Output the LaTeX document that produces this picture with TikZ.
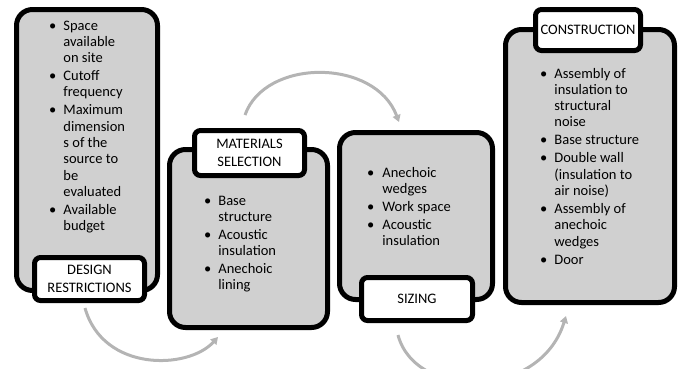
\documentclass[tikz,border=0pt]{standalone}
\usepackage{fontspec}
\setmainfont{Carlito}
\usetikzlibrary{arrows.meta}
\definecolor{boxgray}{RGB}{208,208,208}
\definecolor{arrowgray}{RGB}{180,180,180}
\newcommand\itemlist[2]{\begin{tabular}[t]{@{}l@{\hspace{#1}}l@{}}#2\end{tabular}}
\tikzset{
  bigbox/.style={draw=black, line width=5pt, fill=boxgray, rounded corners=16pt, inner sep=0pt},
  labelbox/.style={draw=black, line width=5pt, fill=white, rounded corners=6pt, inner sep=0pt,
    align=center, font=\fontsize{14.5}{17.5}\selectfont},
  listtext/.style={anchor=base west, inner sep=0pt, font=\fontsize{14.5}{16.3}\selectfont},
  flow/.style={draw=arrowgray, line width=3pt, -{Triangle[length=7pt,width=8pt]}}
}
\begin{document}
\begin{tikzpicture}[x=1pt,y=-1pt]
\useasboundingbox (0,0) rectangle (679,368);
% arrows
\coordinate (a1s) at (85,308);
\coordinate (a1e) at (218,337);
\coordinate (a2s) at (245,115);
\coordinate (a2e) at (399,122);
\coordinate (a3s) at (398,335);
\coordinate (a3e) at (566,316);
\draw[flow] (a1s) .. controls (103,372) and (188,370) .. (a1e);
\draw[flow] (a2s) .. controls (265,58) and (375,58) .. (a2e);
\draw[flow] (a3s) .. controls (415,400) and (540,400) .. (a3e);
% boxes
\node[bigbox, minimum width=141, minimum height=281] (b1) at (87,150) {};
\node[bigbox, minimum width=158, minimum height=178] (b2) at (248.5,238.5) {};
\node[bigbox, minimum width=153, minimum height=167] (b3) at (416,216) {};
\node[bigbox, minimum width=169, minimum height=273] (b4) at (590,166) {};
% labels
\node[labelbox, minimum width=110, minimum height=43] (l1) at (89.5,279) {DESIGN\\RESTRICTIONS};
\node[labelbox, minimum width=110, minimum height=45] (l2) at (249.5,153) {MATERIALS\\SELECTION};
\node[labelbox, minimum width=111, minimum height=43] (l3) at (417,299) {SIZING};
\node[labelbox, minimum width=105, minimum height=41] (l4) at (588,30) {CONSTRUCTION};
% lists
\node[listtext] (t1) at (49,30) {\itemlist{7pt}{%
\textbullet & Space\\ & available\\ & on site\\[1.7pt]
\textbullet & Cutoff\\ & frequency\\[1.7pt]
\textbullet & Maximum\\ & dimension\\ & s of the\\ & source to\\ & be\\ & evaluated\\[1.7pt]
\textbullet & Available\\ & budget}};
\node[listtext] (t2) at (204,205) {\itemlist{7pt}{%
\textbullet & Base\\ & structure\\[1.7pt]
\textbullet & Acoustic\\ & insulation\\[1.7pt]
\textbullet & Anechoic\\ & lining}};
\node[listtext] (t3) at (367,177) {\itemlist{8pt}{%
\textbullet & Anechoic\\ & wedges\\[1.7pt]
\textbullet & Work space\\[1.7pt]
\textbullet & Acoustic\\ & insulation}};
\node[listtext] (t4) at (540,78) {\itemlist{7pt}{%
\textbullet & Assembly of\\ & insulation to\\ & structural\\ & noise\\[1.7pt]
\textbullet & Base structure\\[1.7pt]
\textbullet & Double wall\\ & (insulation to\\ & air noise)\\[1.7pt]
\textbullet & Assembly of\\ & anechoic\\ & wedges\\[1.7pt]
\textbullet & Door}};
\end{tikzpicture}
\end{document}
